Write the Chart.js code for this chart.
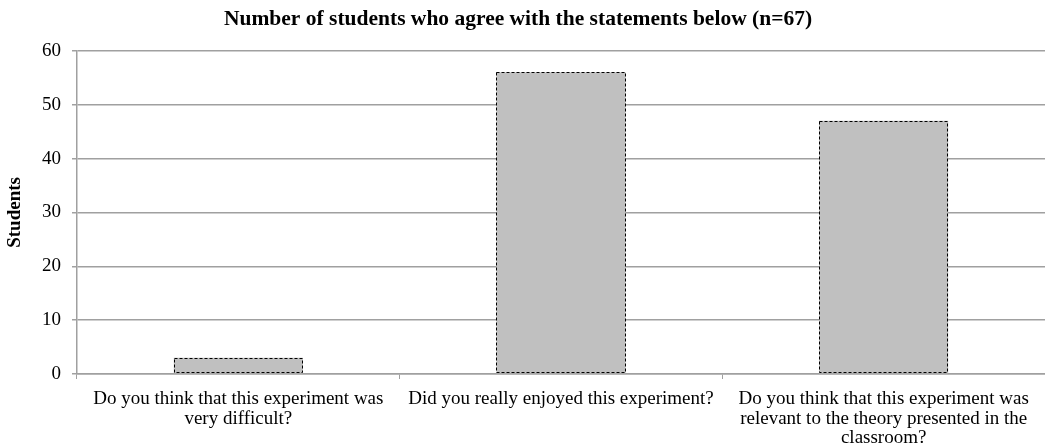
<!DOCTYPE html>
<html>
<head>
<meta charset="utf-8">
<script src="https://cdn.jsdelivr.net/npm/chart.js@4/dist/chart.umd.min.js"></script>
<style>
  html, body { margin: 0; padding: 0; background: #fff; overflow: hidden; }
  #wrap { width: 1045px; height: 448px; }
</style>
</head>
<body>
<div id="wrap"><canvas id="c" width="1045" height="448"></canvas></div>
<script>
var chartTitle = "Number of students who agree with the statements below (n=67)";
var categories = [
    ["Do you think that this experiment was", "very difficult?"],
    ["Did you really enjoyed this experiment?"],
    ["Do you think that this experiment was", "relevant to the theory presented in the", "classroom?"]
];
var students = [3, 56, 47];
var yTicks = [0, 10, 20, 30, 40, 50, 60];

// bars in the original have a dashed outline, chart.js bars don't do dashes
var dashedBorder = {
    id: "dashedBorder",
    afterDatasetsDraw: function(chart) {
        var ctx = chart.ctx;
        var meta = chart.getDatasetMeta(0);
        ctx.save();
        ctx.strokeStyle = "#000";
        ctx.lineWidth = 1;
        ctx.setLineDash([3, 2]);
        meta.data.forEach(function(bar) {
            var p = bar.getProps(["x", "y", "base", "width"], true);
            var l = Math.round(p.x - p.width / 2) + 0.5;
            var r = Math.round(p.x + p.width / 2) - 0.5;
            var t = Math.round(p.y) + 0.5;
            var b = Math.round(p.base) - 0.5;
            ctx.strokeRect(l, t, r - l, b - t);
        });
        ctx.restore();
    }
};

var serif = "Liberation Serif";

var ctx = document.getElementById("c").getContext("2d");
new Chart(ctx, {
    type: "bar",
    data: {
        labels: categories,
        datasets: [{
            data: students,
            backgroundColor: "#c0c0c0",
            borderWidth: 0,
            categoryPercentage: 1,
            barPercentage: 0.4
        }]
    },
    options: {
        responsive: false,
        animation: false,
        // plot runs off the right edge in the original, title is centred on the visible part
        layout: { padding: { left: -19, right: -10, top: 0, bottom: 0 } },
        plugins: {
            legend: { display: false },
            tooltip: { enabled: false },
            title: {
                display: true,
                text: chartTitle,
                color: "#000",
                font: { family: serif, size: 21.5, weight: "bold", lineHeight: 1.2 },
                padding: { top: 7, bottom: 18 }
            }
        },
        scales: {
            x: {
                grid: { drawOnChartArea: false, offset: true, color: "#a0a0a0", tickLength: 5 },
                border: { color: "#a0a0a0", width: 1.5 },
                ticks: {
                    color: "#000",
                    maxRotation: 0,
                    autoSkip: false,
                    padding: 10,
                    font: { family: serif, size: 19, lineHeight: 1.04 }
                },
                afterFit: function(s) { s.height = 74; }
            },
            y: {
                min: 0,
                max: 60,
                afterBuildTicks: function(s) { s.ticks = yTicks.map(function(v) { return { value: v }; }); },
                grid: { color: "#a0a0a0", lineWidth: 1.5, tickLength: 5 },
                border: { color: "#a0a0a0", width: 1.5 },
                ticks: {
                    color: "#000",
                    padding: 11,
                    font: { family: serif, size: 19 }
                },
                title: {
                    display: true,
                    text: "Students",
                    color: "#000",
                    font: { family: serif, size: 19, weight: "bold", lineHeight: 1.2 },
                    padding: { top: 23, bottom: 0 }
                },
                afterFit: function(s) { s.width = 96; }
            }
        }
    },
    plugins: [dashedBorder]
});
</script>
</body>
</html>
